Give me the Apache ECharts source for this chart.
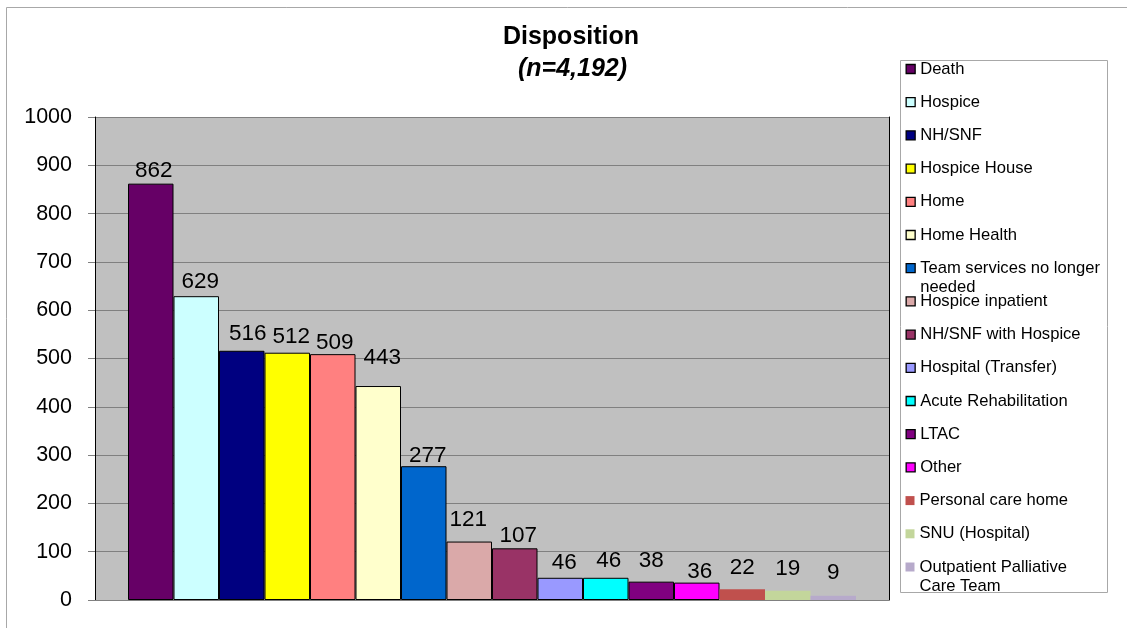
<!DOCTYPE html>
<html><head><meta charset="utf-8">
<script src="https://cdn.jsdelivr.net/npm/echarts@6/dist/echarts.min.js"></script>
<style>html,body{margin:0;padding:0;background:#fff}#c{width:1127px;height:628px}</style>
</head><body><div id="c"></div><script>
// ---- data ----
const categories = ['Death','Hospice','NH/SNF','Hospice House','Home','Home Health',
  'Team services no longer\nneeded','Hospice inpatient','NH/SNF with Hospice','Hospital (Transfer)',
  'Acute Rehabilitation','LTAC','Other','Personal care home','SNU (Hospital)','Outpatient Palliative\nCare Team'];
const values = [862,629,516,512,509,443,277,121,107,46,46,38,36,22,19,9];
const yTickMin = 0, yTickMax = 1000, yTickStep = 100;
const titleText = 'Disposition';
const subtitleText = '(n=4,192)';

// ---- styles ----
const colors = ['#660066','#CCFFFF','#000080','#FFFF00','#FF8080','#FFFFCC','#0066CC','#DAA9A9',
  '#993366','#9999FF','#00FFFF','#800080','#FF00FF','#C0504D','#C3D69B','#B7AACB'];
const outlined = [1,1,1,1,1,1,1,1,1,1,1,1,1,0,0,0];
const labelNudgeX = [3,4,6,4,2,4,4,-1,3.5,4,3,0,3,0,0,0];
const labelNudgeY = [-1.4,-3.5,-5.8,-4.7,0.1,-17,0.8,-10.6,-1.6,-4.3,-5.8,-9.6,0.1,-10.7,-11.5,-11.7];
const FONT = '"Liberation Sans", Arial, Helvetica, sans-serif';
const LEG_LH = 19, LEG_PITCH = 33.2, LEG_TOP = 59.5, LEG_FS = 16.6;

const chart = echarts.init(document.getElementById('c'), null, {renderer:'canvas'});
const series = categories.map((name, i) => ({
  type: 'bar', name: name, data: [values[i]],
  barWidth: 45.5, barGap: 0,
  itemStyle: { color: colors[i], borderColor: outlined[i] ? '#000' : 'transparent', borderWidth: outlined[i] ? 1 : 0 },
  label: { show: true, position: 'top', distance: 0, fontSize: 22.5, lineHeight: 22, color: '#000',
    fontFamily: FONT, offset: [labelNudgeX[i], labelNudgeY[i]] },
  emphasis: { disabled: true }, animation: false
}));

const legends = categories.map((n, i) => ({
  orient: 'vertical', left: 905.5, top: LEG_TOP + i * LEG_PITCH, padding: 0,
  itemWidth: 9, itemHeight: 9, icon: 'rect', selectedMode: false,
  formatter: name => {
    const p = name.split('\n');
    return p.length === 1 ? '{a|' + name + '}' : '{a|' + p[0] + '}\n{b|' + p[1] + '}';
  },
  textStyle: { fontSize: LEG_FS, lineHeight: LEG_LH, color: '#000', fontFamily: FONT,
    rich: {
      a: { fontSize: LEG_FS, lineHeight: LEG_LH, color: '#000', fontFamily: FONT },
      b: { fontSize: LEG_FS, lineHeight: 0, height: LEG_LH, verticalAlign: 'top', color: '#000', fontFamily: FONT }
    } },
  data: [{ name: n, itemStyle: outlined[i] ? { borderColor: '#000', borderWidth: 1.3 } : { borderWidth: 0 } }]
}));

chart.setOption({
  animation: false,
  backgroundColor: '#fff',
  textStyle: { fontFamily: FONT },
  graphic: [
    { type: 'rect', z: -10, shape: { x: 6.5, y: 7.5, width: 1200, height: 700 }, style: { fill: '#fff', stroke: '#a8a8a8', lineWidth: 1 } },
    { type: 'rect', z: -5, shape: { x: 900.5, y: 60.5, width: 207, height: 532 }, style: { fill: '#fff', stroke: '#a8a8a8', lineWidth: 1 } }
  ],
  title: [
    { text: titleText, left: 571, top: 24.5, textAlign: 'center', padding: 0,
      textStyle: { fontSize: 25, lineHeight: 25, fontWeight: 'bold', color: '#000', fontFamily: FONT } },
    { text: subtitleText, left: 572.5, top: 56.5, textAlign: 'center', padding: 0,
      textStyle: { fontSize: 25, lineHeight: 25, fontWeight: 'bold', fontStyle: 'italic', color: '#000', fontFamily: FONT } }
  ],
  legend: legends,
  grid: { left: 95, right: 238, top: 117, bottom: 28, show: true, backgroundColor: '#C0C0C0', borderWidth: 0 },
  xAxis: { type: 'category', data: [''],
    axisLine: { show: true, lineStyle: { color: '#808080', width: 1 } },
    axisTick: { show: false }, axisLabel: { show: false }, splitLine: { show: false } },
  yAxis: [
    { type: 'value', min: yTickMin, max: yTickMax, interval: yTickStep,
      axisLine: { show: true, lineStyle: { color: '#000', width: 1 } },
      axisTick: { show: true, length: 7, lineStyle: { color: '#808080' } },
      axisLabel: { fontSize: 21.5, color: '#000', margin: 23, fontFamily: FONT, formatter: v => String(v) },
      splitLine: { show: true, lineStyle: { color: '#808080', width: 1 } } },
    { type: 'value', position: 'right', min: yTickMin, max: yTickMax, interval: yTickStep,
      axisLine: { show: true, lineStyle: { color: '#000', width: 1 } },
      axisTick: { show: false }, axisLabel: { show: false }, splitLine: { show: false } }
  ],
  series: series
});
</script></body></html>
